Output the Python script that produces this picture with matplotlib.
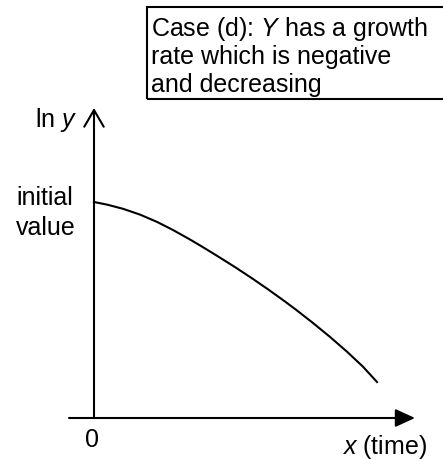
import matplotlib.pyplot as plt
from matplotlib.patches import FancyArrowPatch, Rectangle

plt.rcParams['font.family'] = ['Liberation Sans', 'DejaVu Sans']
plt.rcParams['mathtext.fontset'] = 'custom'
plt.rcParams['mathtext.rm'] = 'Liberation Sans'
plt.rcParams['mathtext.it'] = 'Liberation Sans:italic'

# curve (x = time, y = ln y)
curve_x = [0, 13, 29, 46, 63, 79, 96, 108, 124, 141, 158, 174, 191, 203, 219, 236, 253, 269, 283]
curve_y = [216, 213.4, 209.2, 203.4, 196.1, 188.0, 178.5, 171.4, 161.6, 150.9,
           139.7, 128.7, 116.5, 107.5, 95.0, 81.1, 66.3, 51.3, 36]

box_lines = ['Case (d): $Y$ has a growth',
             'rate which is negative',
             'and decreasing']

fig = plt.figure(figsize=(4.43, 4.60), dpi=100)
ax = fig.add_axes([0, 0, 1, 1])
ax.set_xlim(-94, 349)
ax.set_ylim(-41, 419)
ax.axis('off')

fs = 18

# axes with arrows
ax.add_patch(FancyArrowPatch((0, 0), (0, 310), arrowstyle='->,head_length=12,head_width=7',
                             mutation_scale=1, lw=1.5, color='black', shrinkA=0, shrinkB=0))
ax.add_patch(FancyArrowPatch((-25, 0), (321, 0), arrowstyle='-|>,head_length=12,head_width=5.5',
                             mutation_scale=1, lw=1.5, color='black', shrinkA=0, shrinkB=0))

ax.plot(curve_x, curve_y, color='black', lw=1.5, solid_joinstyle='round')

# labels
ax.text(-17, 292, 'ln $y$', fontsize=fs, ha='right', va='baseline')
ax.text(-78, 214, 'initial', fontsize=fs, ha='left', va='baseline')
ax.text(-78, 184, 'value', fontsize=fs, ha='left', va='baseline')
ax.text(-2, -9, '0', fontsize=fs, ha='center', va='top')
ax.text(333, -35, '$x$ (time)', fontsize=fs, ha='right', va='baseline')

# case box
ax.add_patch(Rectangle((53, 319), 400, 92, fill=False, lw=1.5, ec='black', clip_on=False))
for i, line in enumerate(box_lines):
    ax.text(57, 383 - 28 * i, line, fontsize=fs, ha='left', va='baseline')

fig.savefig('out.png', dpi=100)
